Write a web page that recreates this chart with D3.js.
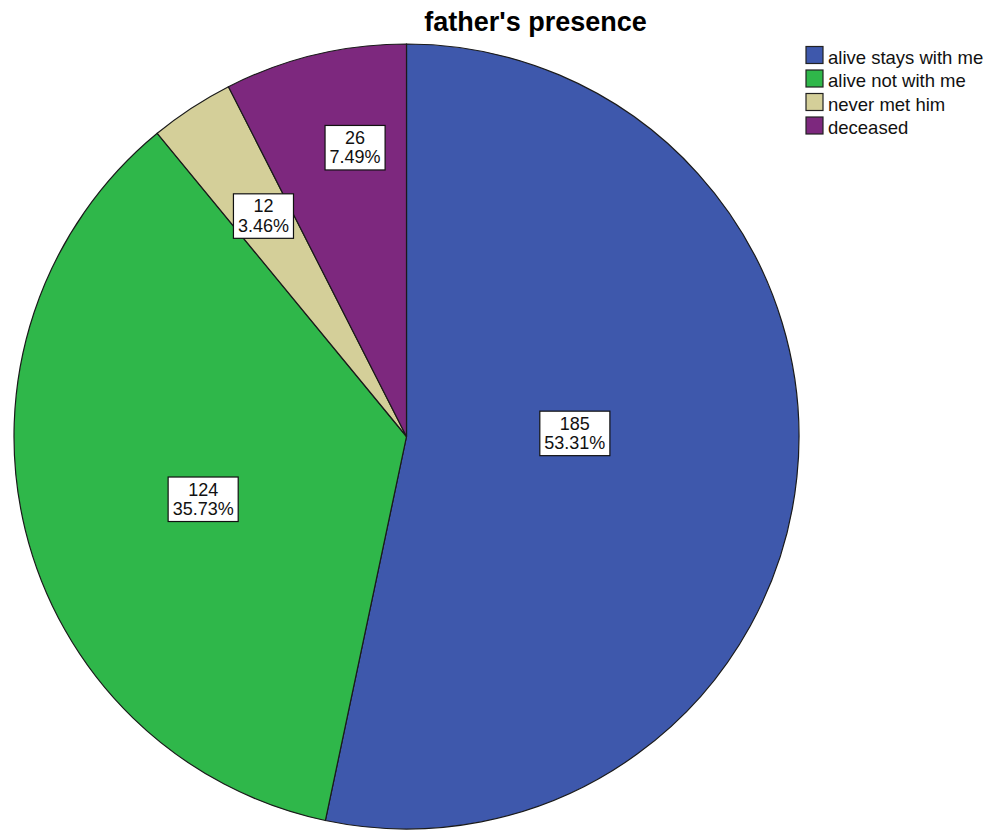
<!DOCTYPE html>
<html>
<head>
<meta charset="utf-8">
<script src="https://cdn.jsdelivr.net/npm/d3@7"></script>
<style>
  body { margin: 0; background: #fff; }
  svg { display: block; font-family: "Liberation Sans", Arial, sans-serif; }
</style>
</head>
<body>
<div id="chart"></div>
<script>
const categories = ['alive stays with me', 'alive not with me', 'never met him', 'deceased'];
const counts = [185, 124, 12, 26];
const colors = ['#3e58ac', '#2fb74a', '#d4cf99', '#7d287e'];
const title = "father's presence";

const width = 991, height = 831;
const cx = 406.5, cy = 436.5, radius = 392.5;

// where each slice label sits: fraction along the slice angle, fraction of radius
const labelPlace = [
  { t: 0.463, r: 0.429 },
  { t: 0.474, r: 0.542 },
  { t: 0.52,  r: 0.67 },
  { t: 0.626, r: 0.748 }
];

const total = d3.sum(counts);
const data = categories.map((c, i) => ({ name: c, value: counts[i], color: colors[i], i }));

const svg = d3.select('#chart')
  .append('svg')
    .attr('width', width)
    .attr('height', height);

svg.append('text')
  .attr('x', 535.5)
  .attr('y', 31)
  .attr('text-anchor', 'middle')
  .style('font-size', '27px')
  .style('font-weight', 'bold')
  .text(title);

const pie = d3.pie().sort(null).value(d => d.value);
const arc = d3.arc().innerRadius(0).outerRadius(radius);
const arcs = pie(data);

const g = svg.append('g')
  .attr('transform', 'translate(' + cx + ',' + cy + ')');

g.selectAll('path.slice')
  .data(arcs)
  .join('path')
    .attr('class', 'slice')
    .attr('d', arc)
    .attr('fill', d => d.data.color)
    .attr('stroke', '#1a1a1a')
    .attr('stroke-width', 1.2);

// labels
const labels = g.selectAll('g.label')
  .data(arcs)
  .join('g')
    .attr('class', 'label')
    .attr('transform', d => {
      const p = labelPlace[d.data.i];
      const a = d.startAngle + (d.endAngle - d.startAngle) * p.t;
      const r = radius * p.r;
      return 'translate(' + (Math.sin(a) * r) + ',' + (-Math.cos(a) * r) + ')';
    });

labels.each(function(d) {
  const lg = d3.select(this);
  const rect = lg.append('rect');
  const t = lg.append('text')
    .attr('text-anchor', 'middle')
    .style('font-size', '18px')
    .attr('fill', '#111');
  t.append('tspan').attr('x', 0).attr('y', -3.5).text(d.data.value);
  t.append('tspan').attr('x', 0).attr('y', 16).text((d.data.value / total * 100).toFixed(2) + '%');
  const b = t.node().getBBox();
  const px = 4.5, py = 2.5;
  rect
    .attr('x', b.x - px)
    .attr('y', b.y - py)
    .attr('width', b.width + px * 2)
    .attr('height', b.height + py * 2)
    .attr('fill', '#fff')
    .attr('stroke', '#111')
    .attr('stroke-width', 1.2);
});

// legend
const legend = svg.append('g')
  .attr('transform', 'translate(806, 46.5)');

const rows = legend.selectAll('g')
  .data(data)
  .join('g')
    .attr('transform', (d, i) => 'translate(0,' + i * 23.5 + ')');

rows.append('rect')
  .attr('width', 17)
  .attr('height', 17)
  .attr('fill', d => d.color)
  .attr('stroke', '#222')
  .attr('stroke-width', 1.2);

rows.append('text')
  .attr('x', 22)
  .attr('y', 17)
  .style('font-size', '18.5px')
  .attr('fill', '#111')
  .text(d => d.name);
</script>
</body>
</html>
